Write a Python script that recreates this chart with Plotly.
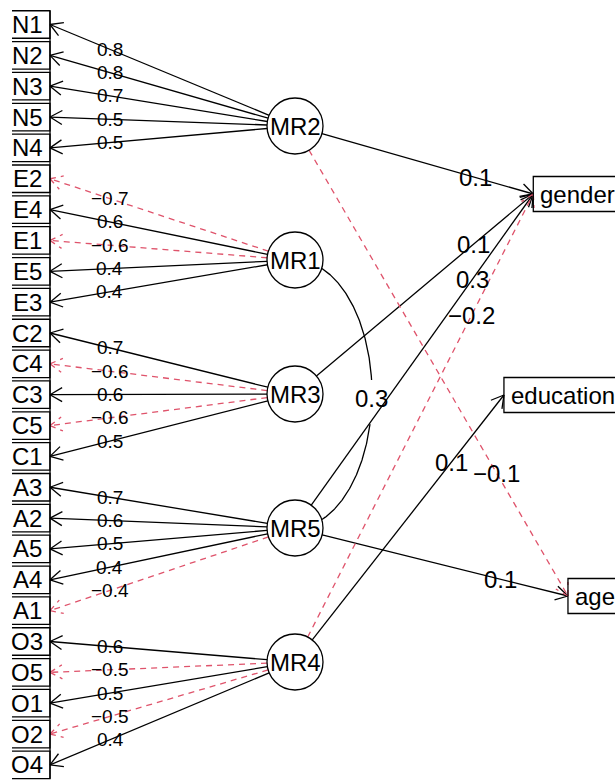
import math
import plotly.graph_objects as go

# ---------------- data ----------------
items = ["N1", "N2", "N3", "N5", "N4",
         "E2", "E4", "E1", "E5", "E3",
         "C2", "C4", "C3", "C5", "C1",
         "A3", "A2", "A5", "A4", "A1",
         "O3", "O5", "O1", "O2", "O4"]
item_factor = ["MR2"] * 5 + ["MR1"] * 5 + ["MR3"] * 5 + ["MR5"] * 5 + ["MR4"] * 5
loadings = [0.8, 0.8, 0.7, 0.5, 0.5,
            -0.7, 0.6, -0.6, 0.4, 0.4,
            0.7, -0.6, 0.6, -0.6, 0.5,
            0.7, 0.6, 0.5, 0.4, -0.4,
            0.6, -0.5, 0.5, -0.5, 0.4]
factors = ["MR2", "MR1", "MR3", "MR5", "MR4"]
criteria = ["gender", "education", "age"]
reg_from = ["MR2", "MR3", "MR5", "MR4", "MR2", "MR4", "MR5"]
reg_to = ["gender", "gender", "gender", "gender", "age", "education", "age"]
reg_coef = [0.1, 0.1, 0.3, -0.2, -0.1, 0.1, 0.1]
cor_from = ["MR1"]
cor_to = ["MR5"]
cor_val = [0.3]

# ---------------- layout constants ----------------
W, H = 615, 782
ITEM_Y0, ITEM_DY = 24.5, 30.85
ITEM_BOX_L, ITEM_BOX_R, ITEM_BOX_H = 12, 50, 27.5
ITEM_LABEL_X = 27
FAC_X, FAC_Y0, FAC_DY, FAC_R = 295, 126, 134, 28
CRIT_Y0, CRIT_DY = 194, 201
CRIT_TEXT_R, CRIT_PAD, CRIT_BOX_H, CRIT_FONT = 613, 5, 35, 24
LABEL_FRAC = 0.725
ARROW_LEN, ARROW_ANG = 14, math.radians(30)
CURVE_BULGE = 77
BLACK, RED = "#000000", "#DF536B"
FONT = "Liberation Sans, Arial, Helvetica, sans-serif"
LW = 1.3

CW = {"a": 556, "b": 556, "c": 500, "d": 556, "e": 556, "f": 278, "g": 556, "h": 556,
      "i": 222, "j": 222, "k": 500, "l": 222, "m": 833, "n": 556, "o": 556, "p": 556,
      "q": 556, "r": 333, "s": 500, "t": 278, "u": 556, "v": 500, "w": 722, "x": 500,
      "y": 500, "z": 500}


def text_width(s, size):
    return sum(CW.get(ch, 556) for ch in s) / 1000.0 * size


def fmt(v):
    return f"{v:.1f}".replace("-", "\u2212")


item_pos = {name: (ITEM_BOX_R, ITEM_Y0 + i * ITEM_DY) for i, name in enumerate(items)}
fac_pos = {name: (FAC_X, FAC_Y0 + k * FAC_DY) for k, name in enumerate(factors)}
crit_info = {}
for j, name in enumerate(criteria):
    tw = text_width(name, CRIT_FONT)
    tleft = CRIT_TEXT_R - tw
    crit_info[name] = dict(y=CRIT_Y0 + j * CRIT_DY, tleft=tleft, bleft=tleft - CRIT_PAD)

solid_x, solid_y, dash_x, dash_y = [], [], [], []
annotations = []
shapes = []


def add_seg(pts, neg):
    xs = [p[0] for p in pts]
    ys = [p[1] for p in pts]
    if neg:
        dash_x.extend(xs + [None]); dash_y.extend(ys + [None])
    else:
        solid_x.extend(xs + [None]); solid_y.extend(ys + [None])


def arrow(center, tip, neg):
    cx, cy = center
    tx, ty = tip
    dx, dy = tx - cx, ty - cy
    d = math.hypot(dx, dy)
    ux, uy = dx / d, dy / d
    start = (cx + FAC_R * ux, cy + FAC_R * uy)
    add_seg([start, tip], neg)
    bx, by = -ux, -uy
    for s in (1, -1):
        a = s * ARROW_ANG
        hx = bx * math.cos(a) - by * math.sin(a)
        hy = bx * math.sin(a) + by * math.cos(a)
        add_seg([tip, (tx + ARROW_LEN * hx, ty + ARROW_LEN * hy)], neg)
    lx = start[0] + LABEL_FRAC * (tx - start[0])
    ly = start[1] + LABEL_FRAC * (ty - start[1])
    return lx, ly


for name, fac, val in zip(items, item_factor, loadings):
    lx, ly = arrow(fac_pos[fac], item_pos[name], val < 0)
    annotations.append(dict(x=lx, y=ly, text=fmt(val), showarrow=False,
                            font=dict(size=19, color=BLACK, family=FONT),
                            xanchor="center", yanchor="middle"))

for f, c, val in zip(reg_from, reg_to, reg_coef):
    info = crit_info[c]
    lx, ly = arrow(fac_pos[f], (info["bleft"], info["y"]), val < 0)
    annotations.append(dict(x=lx, y=ly, text=fmt(val), showarrow=False,
                            font=dict(size=24, color=BLACK, family=FONT),
                            xanchor="center", yanchor="middle"))

for f1, f2, val in zip(cor_from, cor_to, cor_val):
    x1, y1 = fac_pos[f1]
    x2, y2 = fac_pos[f2]
    ecx, ecy = (x1 + x2) / 2, (y1 + y2) / 2
    a = abs(y2 - y1) / 2
    upper, lower = [], []
    for k in range(0, 361):
        t = math.radians(k / 2.0)
        px = ecx + CURVE_BULGE * math.sin(t)
        py = ecy - a * math.cos(t)
        if math.hypot(px - x1, py - y1) < FAC_R or math.hypot(px - x2, py - y2) < FAC_R:
            continue
        deg = k / 2.0
        if deg <= 84:
            upper.append((px, py))
        elif deg >= 103:
            lower.append((px, py))
    add_seg(upper, val < 0)
    add_seg(lower, val < 0)
    t = math.radians(92)
    annotations.append(dict(x=ecx + CURVE_BULGE * math.sin(t), y=ecy - a * math.cos(t),
                            text=fmt(val), showarrow=False,
                            font=dict(size=24, color=BLACK, family=FONT),
                            xanchor="center", yanchor="middle"))

for name in items:
    _, y = item_pos[name]
    top, bot = y - ITEM_BOX_H / 2, y + ITEM_BOX_H / 2
    shapes.append(dict(type="path", xref="x", yref="y",
                       path=f"M {ITEM_BOX_L},{top} L {ITEM_BOX_R},{top} L {ITEM_BOX_R},{bot} L {ITEM_BOX_L},{bot}",
                       line=dict(color=BLACK, width=LW)))
    annotations.append(dict(x=ITEM_LABEL_X, y=y, text=name, showarrow=False,
                            font=dict(size=24, color=BLACK, family=FONT),
                            xanchor="center", yanchor="middle"))
first_top = item_pos[items[0]][1] - ITEM_BOX_H / 2
last_bot = item_pos[items[-1]][1] + ITEM_BOX_H / 2
shapes.append(dict(type="line", xref="x", yref="y", x0=ITEM_BOX_R, x1=ITEM_BOX_R,
                   y0=first_top, y1=last_bot, line=dict(color=BLACK, width=LW)))

for name in factors:
    x, y = fac_pos[name]
    shapes.append(dict(type="circle", xref="x", yref="y", x0=x - FAC_R, x1=x + FAC_R,
                       y0=y - FAC_R, y1=y + FAC_R, fillcolor="white",
                       line=dict(color=BLACK, width=LW), layer="above"))
    annotations.append(dict(x=x, y=y, text=name, showarrow=False,
                            font=dict(size=24, color=BLACK, family=FONT),
                            xanchor="center", yanchor="middle"))

for name in criteria:
    info = crit_info[name]
    y = info["y"]
    top, bot = y - CRIT_BOX_H / 2, y + CRIT_BOX_H / 2
    right = W + 20
    shapes.append(dict(type="path", xref="x", yref="y",
                       path=f"M {right},{top} L {info['bleft']},{top} L {info['bleft']},{bot} L {right},{bot}",
                       line=dict(color=BLACK, width=LW)))
    annotations.append(dict(x=info["tleft"], y=y, text=name, showarrow=False,
                            font=dict(size=CRIT_FONT, color=BLACK, family=FONT),
                            xanchor="left", yanchor="middle"))

fig = go.Figure()
fig.add_trace(go.Scatter(x=solid_x, y=solid_y, mode="lines",
                         line=dict(color=BLACK, width=LW), hoverinfo="skip"))
fig.add_trace(go.Scatter(x=dash_x, y=dash_y, mode="lines",
                         line=dict(color=RED, width=LW, dash="6px,5px"), hoverinfo="skip"))

fig.update_layout(
    width=W, height=H,
    margin=dict(l=0, r=0, t=0, b=0),
    paper_bgcolor="white", plot_bgcolor="white",
    showlegend=False,
    xaxis=dict(range=[0, W], visible=False, fixedrange=True),
    yaxis=dict(range=[H, 0], visible=False, fixedrange=True),
    shapes=shapes,
    annotations=annotations,
)

fig.write_html(
    "out.html",
    config={"displayModeBar": False, "staticPlot": True},
    post_script="document.body.style.margin='0';document.body.style.padding='0';"
                "document.body.style.overflow='hidden';"
                "document.documentElement.style.overflow='hidden';",
)
